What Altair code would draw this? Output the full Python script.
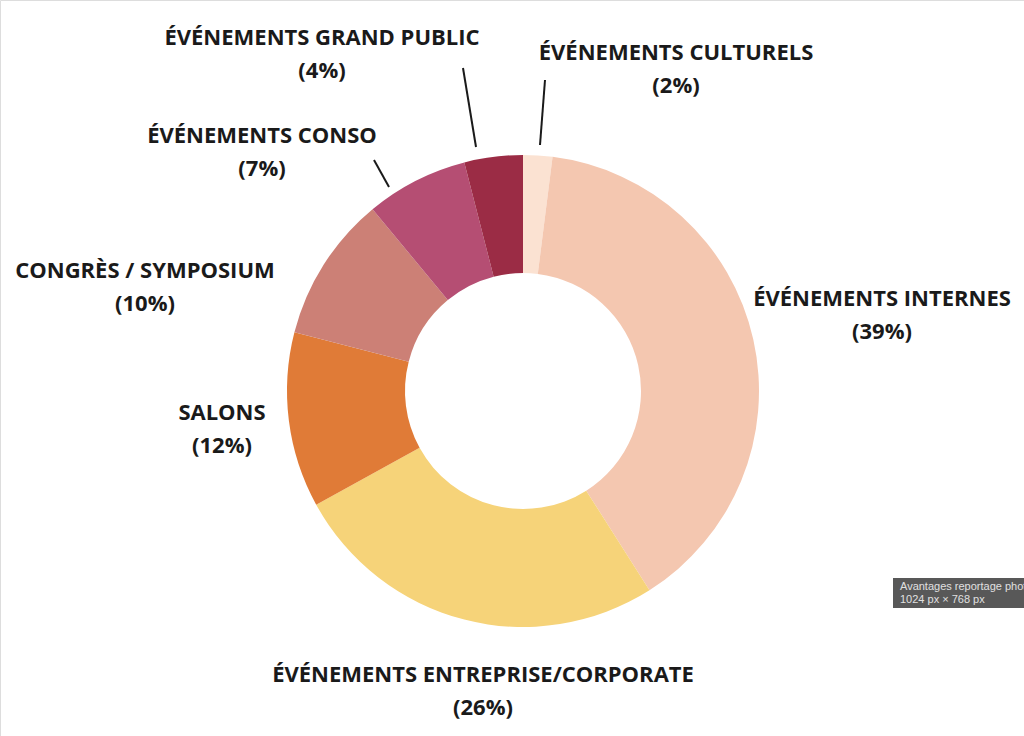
import altair as alt
import pandas as pd

categories = [
    "ÉVÉNEMENTS CULTURELS",
    "ÉVÉNEMENTS INTERNES",
    "ÉVÉNEMENTS ENTREPRISE/CORPORATE",
    "SALONS",
    "CONGRÈS / SYMPOSIUM",
    "ÉVÉNEMENTS CONSO",
    "ÉVÉNEMENTS GRAND PUBLIC",
]
values = [2, 39, 26, 12, 10, 7, 4]
colors = ["#FBE2D2", "#F4C7B0", "#F6D379", "#E07B37", "#CC8076", "#B54E73", "#9B2C45"]

df = pd.DataFrame({"cat": categories, "value": values, "order": list(range(len(values)))})

CX, CY = 523, 391

donut = alt.Chart(df).mark_arc(outerRadius=236, innerRadius=118).encode(
    theta=alt.Theta("value:Q", stack=True),
    order=alt.Order("order:Q"),
    color=alt.Color("cat:N", scale=alt.Scale(domain=categories, range=colors), legend=None),
    x=alt.value(CX),
    y=alt.value(CY),
)

FONT = "Open Sans"

def label(i, x, y):
    lines = [categories[i], f"({values[i]}%)"]
    return alt.Chart(pd.DataFrame({"t": [lines]})).mark_text(
        font=FONT, fontSize=22, fontWeight="bold", color="#1a1a1a",
        align="center", baseline="middle", lineHeight=33,
    ).encode(text="t", x=alt.value(x), y=alt.value(y))

labels = [
    label(0, 676, 53),
    label(1, 882, 299),
    label(2, 483, 675),
    label(3, 222, 413),
    label(4, 145, 271),
    label(5, 262, 136),
    label(6, 322, 38),
]

def leader(x1, y1, x2, y2):
    return alt.Chart(pd.DataFrame({"a": [0]})).mark_rule(color="#1a1a1a", strokeWidth=2).encode(
        x=alt.value(x1), y=alt.value(y1), x2=alt.value(x2), y2=alt.value(y2)
    )

leaders = [
    leader(463, 68, 476, 147),
    leader(545, 80, 540, 145),
    leader(374, 160, 389, 187),
]

tip_box = alt.Chart(pd.DataFrame({"a": [0]})).mark_rect(color="#4a4a4a", opacity=0.92).encode(
    x=alt.value(893), x2=alt.value(1024), y=alt.value(578), y2=alt.value(608)
)
tip_text = alt.Chart(pd.DataFrame({"t": [["Avantages reportage photo", "1024 px × 768 px"]]})).mark_text(
    font="Liberation Sans", fontSize=11, color="#e0e0e0", align="left", baseline="middle", lineHeight=13,
).encode(text="t", x=alt.value(900), y=alt.value(587))

chart = alt.layer(donut, *leaders, *labels, tip_box, tip_text).properties(
    width=1024, height=736, autosize=alt.AutoSizeParams(type="none"), padding=0,
).configure_view(stroke=None).configure(background="white")

chart.save("out.html", embed_options={"renderer": "svg", "actions": False})
